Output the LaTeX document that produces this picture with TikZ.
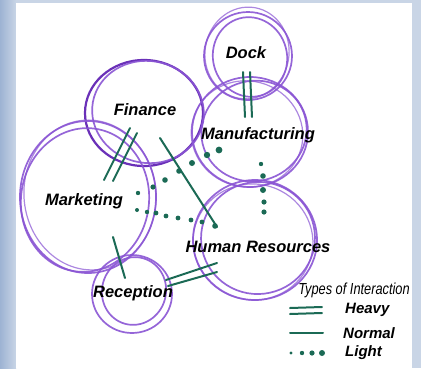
\documentclass[tikz,border=0pt]{standalone}
\usepackage{fontspec}
\setmainfont{Liberation Sans}
\usetikzlibrary{calc}
\definecolor{pur}{HTML}{8A55D4}
\definecolor{purdk}{HTML}{6A30B8}
\definecolor{grn}{HTML}{1B6A55}
\definecolor{frame}{HTML}{C9D5E6}
\definecolor{framedk}{HTML}{9DB3D3}
\begin{document}
\begin{tikzpicture}[x=1pt,y=-1pt,
  ring/.style={draw=pur,line width=1.7pt,opacity=0.9},
  ringlt/.style={draw=pur,line width=1.2pt,opacity=0.7},
  ringdk/.style={draw=purdk,line width=2.2pt},
  dept/.style={font=\fontsize{16.5}{18}\selectfont\bfseries\itshape,inner sep=0pt},
  legtxt/.style={font=\fontsize{15}{17}\selectfont\bfseries\itshape,inner sep=0pt,anchor=west},
  link/.style={draw=grn,line width=2pt,line cap=round},
  dot/.style={fill=grn,draw=none}]
\useasboundingbox (0,0) rectangle (421,368);
% frame
\fill[frame] (0,0) rectangle (421,368);
\shade[left color=framedk,right color=frame] (0,0) rectangle (16,368);
\fill[white] (16,3) rectangle (412,368);

% circles
% Dock
\draw[ring] (248,56) ellipse [x radius=44,y radius=44];
\draw[ring,rotate around={15:(250,57)}] (250,57) ellipse [x radius=37,y radius=40];
\draw[ringlt,rotate around={-10:(247,53)}] (247,53) ellipse [x radius=42,y radius=46];
% Finance
\draw[ringdk] (144,113) ellipse [x radius=59,y radius=53];
\draw[ring,rotate around={-10:(148,112)}] (148,112) ellipse [x radius=56,y radius=51];
% Manufacturing
\draw[ring] (250,132) ellipse [x radius=58,y radius=55];
\draw[ring,rotate around={20:(254,131)}] (254,131) ellipse [x radius=53,y radius=50];
\draw[ringlt,rotate around={-15:(247,134)}] (247,134) ellipse [x radius=56,y radius=53];
% Marketing
\draw[ring] (88,197) ellipse [x radius=68,y radius=76];
\draw[ring,rotate around={-8:(85,200)}] (85,200) ellipse [x radius=64,y radius=72];
\draw[ringlt,rotate around={6:(90,195)}] (90,195) ellipse [x radius=66,y radius=75];
% Human Resources
\draw[ring] (255,240) ellipse [x radius=62,y radius=60];
\draw[ring,rotate around={12:(258,238)}] (258,238) ellipse [x radius=57,y radius=56];
\draw[ringlt,rotate around={-10:(253,242)}] (253,242) ellipse [x radius=60,y radius=58];
% Reception
\draw[ring] (132,294) ellipse [x radius=40,y radius=39];
\draw[ring,rotate around={-15:(134,291)}] (134,291) ellipse [x radius=32,y radius=34];

% labels
\node[dept] (dock) at (246,53) {Dock};
\node[dept] (fin) at (145,110) {Finance};
\node[dept] (man) at (258,135) {Manufacturing};
\node[dept] (mkt) at (84,201) {Marketing};
\node[dept] (hr) at (258,247) {Human Resources};
\node[dept] (rec) at (133,293) {Reception};

% heavy links
\coordinate (dm1a) at (243,72); \coordinate (dm1b) at (245,117);
\coordinate (dm2a) at (250,72); \coordinate (dm2b) at (252,117);
\draw[link] (dm1a) -- (dm1b); \draw[link] (dm2a) -- (dm2b);
\coordinate (fm1a) at (130,128); \coordinate (fm1b) at (104,180);
\coordinate (fm2a) at (137,133); \coordinate (fm2b) at (113,181);
\draw[link] (fm1a) -- (fm1b); \draw[link] (fm2a) -- (fm2b);
\coordinate (rh1a) at (166,280); \coordinate (rh1b) at (217,263);
\coordinate (rh2a) at (168,286); \coordinate (rh2b) at (217,272);
\draw[link] (rh1a) -- (rh1b); \draw[link] (rh2a) -- (rh2b);
% normal links
\coordinate (fh1) at (160,138); \coordinate (fh2) at (217,227);
\draw[link] (fh1) -- (fh2);
\coordinate (mr1) at (113,237); \coordinate (mr2) at (125,278);
\draw[link] (mr1) -- (mr2);
% light links
\foreach \x/\y/\r in {138/193/2.2,153/187/2.6,165/180/2.8,179/171/2.8,192/163/3,207/155/3.2,219/150/3.4}
  \fill[dot] (\x,\y) circle[radius=\r];
\foreach \x/\y/\r in {137/210/2,147/212/2.2,156/213/2.4,166/216/2.4,178/218/2.4,191/220/2.4,202/222/2.4,215/226/2.8}
  \fill[dot] (\x,\y) circle[radius=\r];
\foreach \x/\y/\r in {261/164/2.2,263/176/2.8,263/190/3,264/202/2.6,264/212/2.6}
  \fill[dot] (\x,\y) circle[radius=\r];

% legend
\node[inner sep=0pt] (legtitle) at (354,290) {\scalebox{0.8}[1]{\fontsize{16}{18}\selectfont\itshape Types of Interaction}};
\coordinate (lh1a) at (290,308); \coordinate (lh1b) at (322,307);
\coordinate (lh2a) at (290,314); \coordinate (lh2b) at (322,313);
\draw[link] (lh1a) -- (lh1b); \draw[link] (lh2a) -- (lh2b);
\coordinate (lna) at (290,333); \coordinate (lnb) at (323,333);
\draw[link] (lna) -- (lnb);
\foreach \x/\r in {291/1.6,302/2.2,312/2.6,322/3}
  \fill[dot] (\x,353) circle[radius=\r];
\node[legtxt] (heavy) at (345,310) {Heavy};
\node[legtxt] (normal) at (343,333) {Normal};
\node[legtxt] (light) at (345,353) {Light};
\end{tikzpicture}
\end{document}
